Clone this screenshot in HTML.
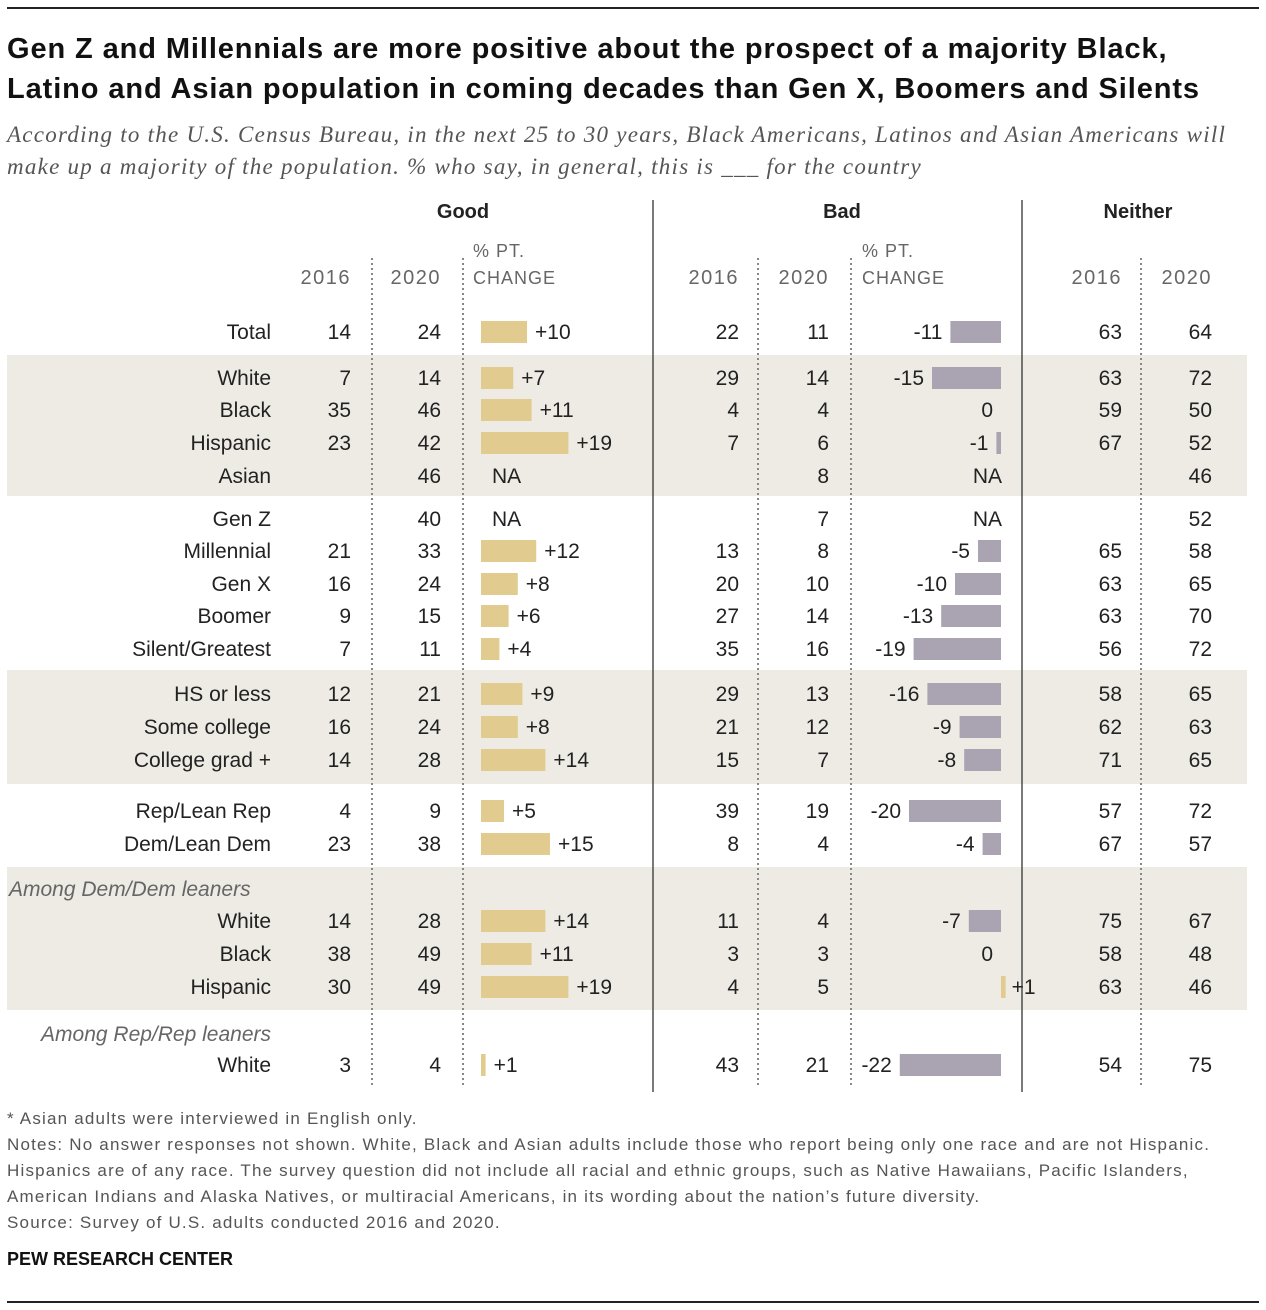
<!DOCTYPE html>
<html><head><meta charset="utf-8">
<style>
body{margin:0;background:#fff;width:1266px;height:1310px;position:relative;overflow:hidden;font-family:"Liberation Sans",Arial,sans-serif;color:#222}
.abs{position:absolute}
.t{font-weight:bold;font-size:29px;left:7px;color:#111;letter-spacing:0.9px}
.sub{font-family:"Liberation Serif",serif;font-style:italic;font-size:23px;color:#555;left:7px;letter-spacing:1.25px}
.note{font-size:17px;color:#555;left:7px;letter-spacing:1.2px}
</style></head><body>
<div class="abs" style="left:7px;top:7px;width:1252px;height:2px;background:#222"></div>
<div class="abs t" style="top:29px;line-height:40px">Gen Z and Millennials are more positive about the prospect of a majority Black,<br>Latino and Asian population in coming decades than Gen X, Boomers and Silents</div>
<div class="abs sub" style="top:119px;line-height:32px">According to the U.S. Census Bureau, in the next 25 to 30 years, Black Americans, Latinos and Asian Americans will<br>make up a majority of the population. % who say, in general, this is ___ for the country</div>
<svg id="chart" class="abs" style="left:0;top:0" width="1266" height="1110" font-family="Liberation Sans, Arial, sans-serif"></svg>
<div class="abs note" style="top:1106px;line-height:26px">* Asian adults were interviewed in English only.<br>Notes: No answer responses not shown. White, Black and Asian adults include those who report being only one race and are not Hispanic.<br>Hispanics are of any race. The survey question did not include all racial and ethnic groups, such as Native Hawaiians, Pacific Islanders,<br>American Indians and Alaska Natives, or multiracial Americans, in its wording about the nation’s future diversity.<br>Source: Survey of U.S. adults conducted 2016 and 2020.</div>
<div class="abs" style="left:7px;top:1249px;font-weight:bold;font-size:18px;color:#111">PEW RESEARCH CENTER</div>
<div class="abs" style="left:7px;top:1301px;width:1252px;height:2px;background:#222"></div>
<script>
const labels=["Total","White","Black","Hispanic","Asian","Gen Z","Millennial","Gen X","Boomer","Silent/Greatest","HS or less","Some college","College grad +","Rep/Lean Rep","Dem/Lean Dem","White","Black","Hispanic","White"];
const rowY=[332,378,410,443,476,519,551,584,616,649,694,727,760,811,844,921,954,987,1065];
const good16=[14,7,35,23,null,null,21,16,9,7,12,16,14,4,23,14,38,30,3];
const good20=[24,14,46,42,46,40,33,24,15,11,21,24,28,9,38,28,49,49,4];
const bad16=[22,29,4,7,null,null,13,20,27,35,29,21,15,39,8,11,3,4,43];
const bad20=[11,14,4,6,8,7,8,10,14,16,13,12,7,19,4,4,3,5,21];
const neither16=[63,63,59,67,null,null,65,63,63,56,58,62,71,57,67,75,58,63,54];
const neither20=[64,72,50,52,46,52,58,65,70,72,65,63,65,72,57,67,48,46,75];
const goodChange=[10,7,11,19,null,null,12,8,6,4,9,8,14,5,15,14,11,19,1];
const badChange=[-11,-15,0,-1,null,null,-5,-10,-13,-19,-16,-9,-8,-20,-4,-7,0,1,-22];
const bands=[[355,496],[670,784],[867,1010]];
const svg=document.getElementById('chart');const NS='http://www.w3.org/2000/svg';
function el(tag,attrs,txt){const e=document.createElementNS(NS,tag);for(const k in attrs)e.setAttribute(k,attrs[k]);if(txt!==undefined)e.textContent=txt;svg.appendChild(e);return e;}
const PX=4.6;const gx=481,bx=1001;
const gScale=v=>v*PX;
bands.forEach((b,i)=>{const r=el('rect',{x:7,y:b[0],width:1240,height:b[1]-b[0],fill:'#edebe4'});

});
[[653,200,1092],[1022,200,1092]].forEach(l=>{const e=el('line',{x1:l[0],x2:l[0],y1:l[1],y2:l[2],stroke:'#333','stroke-width':1.3});

});
[372,463,758,851,1141].forEach(x=>{const e=el('line',{x1:x,x2:x,y1:258,y2:1088,stroke:'#888','stroke-width':2,'stroke-dasharray':'2 3'});

});
function txt(x,y,s,anchor,extra){const a=Object.assign({x:x,y:y,'font-size':21,fill:'#222','text-anchor':anchor||'end'},extra||{});const e=el('text',a,s);return e;}
[["Good",463],["Bad",842],["Neither",1138]].forEach(h=>{const e=txt(h[1],218,h[0],'middle',{'font-weight':'bold','font-size':20});

});
[[351,"2016"],[441,"2020"],[739,"2016"],[829,"2020"],[1122,"2016"],[1212,"2020"]].forEach(h=>{const e=txt(h[0],284,h[1],'end',{fill:'#666','font-size':20,'letter-spacing':'1.5'});

});
[473,862].forEach(x=>{let e=txt(x,257,"% PT.",'start',{fill:'#666','font-size':18,'letter-spacing':'1'});


e=txt(x,284,"CHANGE",'start',{fill:'#666','font-size':18,'letter-spacing':'1'});

});
[["Among Dem/Dem leaners",889],["Among Rep/Rep leaners",1041]].forEach((h,i)=>{const e=txt(i?271:9,h[1]+(i?0:7),h[0],i?'end':'start',{fill:'#666','font-style':'italic'});

});
labels.forEach((l,i)=>{const y=rowY[i]+7;
let e=txt(271,y,l);
[[351,good16],[441,good20],[739,bad16],[829,bad20],[1122,neither16],[1212,neither20]].forEach(c=>{if(c[1][i]!==null){const t=txt(c[0],y,String(c[1][i]));}});
const g=goodChange[i];
if(g===null){const t=txt(492,y,"NA",'start');}
else{const r=el('rect',{x:gx,y:rowY[i]-11,width:gScale(g),height:22,fill:'#e2cb8e'});
const t=txt(gx+gScale(g)+8,y,'+'+g,'start');}
const b=badChange[i];
if(b===null){const t=txt(1002,y,"NA",'end');}
else if(b<0){const w=gScale(-b);const r=el('rect',{x:bx-w,y:rowY[i]-11,width:w,height:22,fill:'#aaa3b1'});
const t=txt(bx-w-8,y,String(b),'end');}
else if(b===0){const t=txt(993,y,"0",'end');}
else{const w=gScale(b);const r=el('rect',{x:bx,y:rowY[i]-11,width:w,height:22,fill:'#e2cb8e'});
const t=txt(bx+w+6,y,'+'+b,'start');}
});
</script>
</body></html>
